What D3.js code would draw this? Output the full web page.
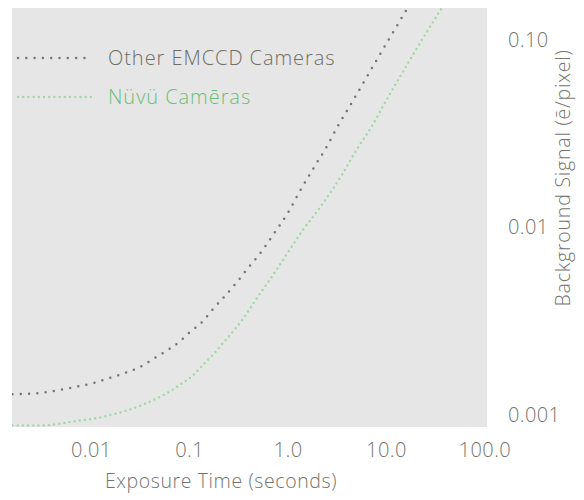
<!DOCTYPE html>
<html>
<head>
<meta charset="utf-8">
<script src="https://cdn.jsdelivr.net/npm/d3@7"></script>
<style>
  html, body { margin: 0; padding: 0; background: #ffffff; }
  svg { display: block; font-family: "Open Sans", "Noto Sans", sans-serif; }
</style>
</head>
<body>
<svg id="chart" width="584" height="500"></svg>
<script>
// ---- data ----
const otherX = [0.0016, 0.0025, 0.0038, 0.0052, 0.0074, 0.0105, 0.0146, 0.0218, 0.0316, 0.0428, 0.058, 0.079, 0.102, 0.135, 0.175, 0.231, 0.306, 0.396, 0.512, 0.711, 1.01, 1.34, 1.81, 2.46, 3.25, 4.41, 8.67, 16.3, 18.5];
const otherY = [0.00129, 0.00130, 0.00133, 0.00137, 0.00142, 0.00148, 0.00156, 0.00167, 0.00180, 0.00199, 0.00219, 0.00245, 0.00277, 0.00313, 0.00368, 0.00431, 0.00512, 0.00608, 0.00714, 0.00912, 0.0120, 0.0157, 0.0205, 0.0266, 0.0348, 0.0456, 0.0837, 0.146, 0.163];
const nuvuX = [0.0016, 0.0023, 0.0033, 0.0049, 0.0072, 0.0113, 0.0157, 0.0212, 0.0302, 0.0429, 0.0595, 0.0807, 0.107, 0.138, 0.175, 0.221, 0.306, 0.387, 0.489, 0.711, 1.01, 1.43, 2.04, 3.57, 5.07, 7.21, 9.77, 36.2, 41.0];
const nuvuY = [0.00088, 0.00088, 0.00088, 0.00090, 0.00093, 0.00096, 0.00100, 0.00104, 0.00111, 0.00120, 0.00131, 0.00145, 0.00161, 0.00185, 0.00210, 0.00242, 0.00296, 0.00350, 0.00421, 0.00558, 0.00737, 0.00970, 0.0124, 0.0191, 0.0262, 0.0348, 0.0463, 0.146, 0.162];
const seriesNames = ["Other EMCCD Cameras", "Nüvü Camēras"];
const xTicks = [0.01, 0.1, 1, 10, 100];
const xTickLabels = ["0.01", "0.1", "1.0", "10.0", "100.0"];
const yTicks = [0.001, 0.01, 0.1];
const yTickLabels = ["0.001", "0.01", "0.10"];
const xTitle = "Exposure Time (seconds)";
const yTitle = "Background Signal (ē/pixel)";

// ---- layout ----
const plot = { left: 12, top: 8, right: 487, bottom: 427 };
const svg = d3.select("#chart");
const FONT = "'Open Sans', 'Noto Sans', sans-serif";
const WEIGHT = 300;

const x = d3.scaleLog().domain([0.01, 100]).range([90.8, 484.4]);
const y = d3.scaleLog().domain([0.001, 0.1]).range([415, 40]);

svg.append("rect")
  .attr("x", plot.left).attr("y", plot.top)
  .attr("width", plot.right - plot.left).attr("height", plot.bottom - plot.top)
  .attr("fill", "#e6e6e6");

svg.append("clipPath").attr("id", "clip")
  .append("rect")
  .attr("x", plot.left).attr("y", plot.top)
  .attr("width", plot.right - plot.left).attr("height", plot.bottom - plot.top);

const line = d3.line().x(d => x(d[0])).y(d => y(d[1])).curve(d3.curveMonotoneX);

const styles = [
  { color: "#747474", width: 2.5, dash: "0 8.3", text: "#6e6e67" },
  { color: "#a3d6a6", width: 2.4, dash: "0 5.2", text: "#6cbf72" }
];

const series = [
  d3.zip(otherX, otherY),
  d3.zip(nuvuX, nuvuY)
];

const g = svg.append("g").attr("clip-path", "url(#clip)");
series.forEach((s, i) => {
  g.append("path")
    .attr("d", line(s))
    .attr("fill", "none")
    .attr("stroke", styles[i].color)
    .attr("stroke-width", styles[i].width)
    .attr("stroke-linecap", "round")
    .attr("stroke-dasharray", styles[i].dash);
});

// ---- legend ----
const legendY = [58, 97];
seriesNames.forEach((name, i) => {
  svg.append("line")
    .attr("x1", 18).attr("x2", 92)
    .attr("y1", legendY[i]).attr("y2", legendY[i])
    .attr("stroke", styles[i].color)
    .attr("stroke-width", styles[i].width)
    .attr("stroke-linecap", "round")
    .attr("stroke-dasharray", styles[i].dash);
  svg.append("text")
    .attr("x", 108).attr("y", legendY[i])
    .attr("dy", "0.36em")
    .attr("font-size", 20)
    .attr("font-weight", WEIGHT)
    .attr("letter-spacing", 0.95)
    .attr("font-family", FONT)
    .attr("fill", styles[i].text)
    .text(name);
});

// ---- axes ----
const axisColor = "#74746c";
const xAxis = svg.append("g")
  .attr("transform", "translate(0,443)")
  .call(d3.axisBottom(x).tickValues(xTicks)
    .tickFormat((d, i) => xTickLabels[i]).tickSize(0).tickPadding(0));
xAxis.select(".domain").remove();
xAxis.selectAll("text").attr("font-size", 20).attr("fill", axisColor)
  .attr("font-weight", WEIGHT).attr("letter-spacing", 0.4)
  .attr("font-family", FONT);

const yAxis = svg.append("g")
  .attr("transform", "translate(508,0)")
  .call(d3.axisRight(y).tickValues(yTicks)
    .tickFormat((d, i) => yTickLabels[i]).tickSize(0).tickPadding(0));
yAxis.select(".domain").remove();
yAxis.selectAll("text").attr("font-size", 20).attr("fill", axisColor)
  .attr("font-weight", WEIGHT).attr("letter-spacing", 0.4)
  .attr("font-family", FONT);

svg.append("text")
  .attr("x", 221).attr("y", 488)
  .attr("text-anchor", "middle")
  .attr("font-size", 19.5)
  .attr("font-weight", WEIGHT)
  .attr("letter-spacing", 0.6)
  .attr("font-family", FONT)
  .attr("fill", axisColor)
  .text(xTitle);

svg.append("text")
  .attr("transform", "translate(570,178) rotate(-90)")
  .attr("text-anchor", "middle")
  .attr("font-size", 19.5)
  .attr("font-weight", WEIGHT)
  .attr("letter-spacing", 0.8)
  .attr("font-family", FONT)
  .attr("fill", axisColor)
  .text(yTitle);
</script>
</body>
</html>
